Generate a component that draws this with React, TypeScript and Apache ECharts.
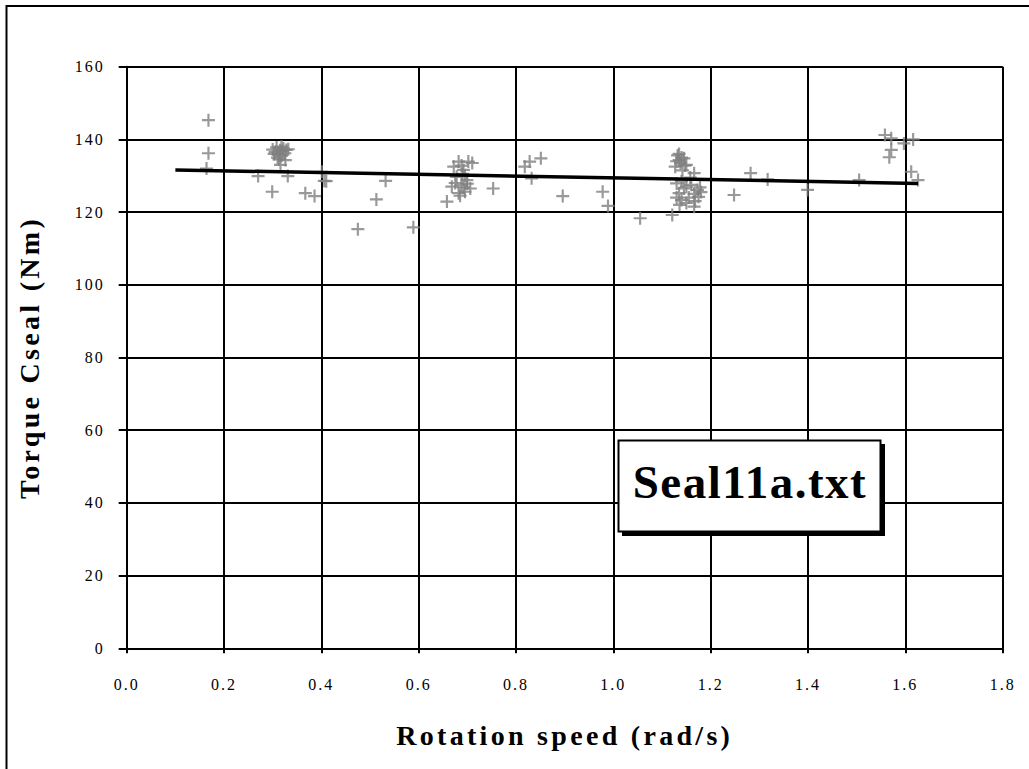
import React, { useEffect, useRef } from "react";
import * as echarts from "echarts";

const xTicks = [0, 0.2, 0.4, 0.6, 0.8, 1.0, 1.2, 1.4, 1.6, 1.8];
const yTicks = [0, 20, 40, 60, 80, 100, 120, 140, 160];

const speed: number[] = [
  0.168, 0.168, 0.164, 0.270, 0.331, 0.299, 0.367, 0.386, 0.401, 0.406, 0.410,
  0.300, 0.305, 0.308, 0.312, 0.315, 0.318, 0.320, 0.322, 0.325, 0.310, 0.328, 0.332, 0.326, 0.316, 0.303, 0.318, 0.313,
  0.532, 0.513, 0.475, 0.589,
  0.682, 0.702, 0.672, 0.692, 0.688, 0.678, 0.699, 0.690, 0.668, 0.688, 0.706, 0.682, 0.695, 0.658, 0.685, 0.700, 0.675, 0.692, 0.710, 0.695,
  0.753, 0.818, 0.828, 0.851, 0.832, 0.896, 0.978, 0.989, 1.055,
  1.132, 1.135, 1.140, 1.127, 1.147, 1.138, 1.130, 1.145, 1.142, 1.150, 1.135,
  1.130, 1.150, 1.173, 1.135, 1.166, 1.140, 1.166, 1.121, 1.145, 1.155, 1.160, 1.175, 1.130, 1.150, 1.178, 1.140, 1.168, 1.158, 1.136, 1.180, 1.166,
  1.248, 1.282, 1.317, 1.399, 1.505, 1.558, 1.571, 1.571, 1.567, 1.597, 1.616, 1.612, 1.626,
];
const torque: number[] = [
  145.3, 136.2, 132.0, 129.9, 129.9, 125.6, 125.2, 124.4, 131.1, 128.6, 128.5,
  137.2, 136.5, 137.8, 136.0, 137.0, 135.5, 136.8, 137.5, 136.2, 135.0, 137.1, 137.3, 134.3, 133.0, 136.0, 138.0, 134.5,
  128.6, 123.5, 115.3, 115.8,
  133.9, 133.9, 132.5, 131.6, 132.8, 129.7, 128.8, 130.5, 127.0, 127.5, 126.5, 125.2, 125.6, 122.9, 124.5, 127.8, 128.0, 126.8, 133.5, 130.0,
  126.5, 132.5, 133.9, 134.8, 129.3, 124.4, 125.6, 121.7, 118.3,
  135.6, 134.3, 135.0, 132.5, 132.8, 133.5, 134.0, 134.8, 131.5, 133.0, 136.0,
  127.9, 127.0, 126.1, 125.2, 125.0, 123.3, 121.5, 119.2, 126.5, 124.0, 127.5, 124.2, 124.0, 122.5, 126.8, 128.5, 123.0, 129.5, 122.0, 125.5, 130.7,
  124.7, 130.7, 129.0, 126.1, 128.8, 141.2, 140.3, 137.1, 135.1, 138.9, 140.0, 131.1, 128.8,
];
const trendX = [0.1, 1.626];
const trendY = [131.6, 127.9];

const xTitle = "Rotation speed (rad/s)";
const yTitle = "Torque Cseal (Nm)";
const boxLabel = "Seal11a.txt";

const PLUS = "path://M5,0H7V5H12V7H7V12H5V7H0V5H5Z";
const FONT = "'Liberation Serif', 'Times New Roman', serif";

export default function App() {
  const ref = useRef<HTMLDivElement>(null);
  useEffect(() => {
    if (!ref.current) return;
    const chart = echarts.init(ref.current, null, { renderer: "svg" });
    const left = 126.7, right = 1002.7, top = 66.7, bottom = 648.3;
    chart.setOption({
      animation: false,
      backgroundColor: "#ffffff",
      grid: { left, top, right: 1029 - right, bottom: 769 - bottom, containLabel: false },
      xAxis: {
        type: "value",
        min: xTicks[0],
        max: xTicks[xTicks.length - 1],
        interval: 0.2,
        name: xTitle,
        nameLocation: "middle",
        nameGap: 73,
        nameTextStyle: { fontFamily: FONT, fontWeight: "bold", fontSize: 28, color: "#000" },
        axisLine: { show: true, lineStyle: { color: "#000", width: 2 } },
        axisTick: { show: true, inside: false, length: 5, lineStyle: { color: "#000", width: 2 } },
        splitLine: { show: true, lineStyle: { color: "#000", width: 2 } },
        axisLabel: {
          margin: 28,
          fontFamily: FONT,
          fontSize: 16,
          color: "#000",
          formatter: (v: number) => v.toFixed(1),
        },
      },
      yAxis: {
        type: "value",
        min: yTicks[0],
        max: yTicks[yTicks.length - 1],
        interval: 20,
        name: yTitle,
        nameLocation: "middle",
        nameGap: 83,
        nameRotate: 90,
        nameTextStyle: { fontFamily: FONT, fontWeight: "bold", fontSize: 28, color: "#000" },
        axisLine: { show: true, lineStyle: { color: "#000", width: 2 } },
        axisTick: { show: true, inside: false, length: 8, lineStyle: { color: "#000", width: 2 } },
        splitLine: { show: true, lineStyle: { color: "#000", width: 2 } },
        axisLabel: { margin: 22, fontFamily: FONT, fontSize: 16, color: "#000" },
      },
      series: [
        {
          type: "scatter",
          data: speed.map((s, i) => [s, torque[i]]),
          symbol: PLUS,
          symbolSize: 13,
          itemStyle: { color: "#808080" },
          z: 3,
        },
        {
          type: "line",
          data: trendX.map((s, i) => [s, trendY[i]]),
          showSymbol: false,
          symbol: "none",
          lineStyle: { color: "#000", width: 3.5 },
          z: 4,
        },
      ],
      graphic: [
        {
          type: "rect",
          shape: { x: 6.5, y: 6, width: 1100, height: 900 },
          style: { fill: "none", stroke: "#000", lineWidth: 2 },
          z: -10,
          silent: true,
        },
        {
          type: "rect",
          shape: { x: 622, y: 444, width: 263, height: 92 },
          style: { fill: "#000" },
          z: 10,
          silent: true,
        },
        {
          type: "rect",
          shape: { x: 618.5, y: 440.5, width: 262, height: 91 },
          style: { fill: "#fff", stroke: "#000", lineWidth: 2 },
          z: 11,
          silent: true,
        },
        {
          type: "text",
          x: 750,
          y: 482,
          style: {
            text: boxLabel,
            fontFamily: FONT,
            fontWeight: "bold",
            fontSize: 47,
            fill: "#000",
            align: "center",
            verticalAlign: "middle",
          },
          z: 12,
          silent: true,
        },
      ],
    });
    return () => chart.dispose();
  }, []);
  return (
    <>
      <style>{`
        #chart text[style*="28px"] { letter-spacing: 3.3px; }
        #chart text[style*="16px"] { letter-spacing: 2px; }
        #chart text[style*="47px"] { letter-spacing: 1.5px; }
      `}</style>
      <div
        id="chart"
        ref={ref}
        style={{ position: "absolute", left: 0, top: 0, width: 1029, height: 769 }}
      />
    </>
  );
}
